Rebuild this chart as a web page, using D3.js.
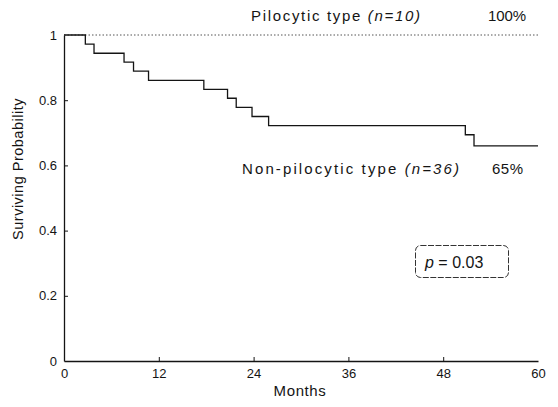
<!DOCTYPE html>
<html>
<head>
<meta charset="utf-8">
<script src="https://cdn.jsdelivr.net/npm/d3@7"></script>
<style>
  body { margin: 0; background: #fff; }
  svg { display: block; font-family: "Liberation Sans", Arial, sans-serif; }
</style>
</head>
<body>
<svg id="area" width="558" height="407"></svg>
<script>
// Kaplan-Meier steps: [month, survival after step]
const nonPilocyticMonths = [0, 2.7, 3.8, 7.6, 8.8, 10.7, 17.7, 20.7, 21.8, 23.8, 25.9, 50.8, 51.9, 60];
const nonPilocyticSurv = [1, 0.972, 0.944, 0.917, 0.889, 0.861, 0.833, 0.806, 0.778, 0.75, 0.722, 0.694, 0.66, 0.66];
const pilocyticMonths = [0, 60];
const pilocyticSurv = [1, 1];
const xTicks = [0, 12, 24, 36, 48, 60];
const yTicks = [0, 0.2, 0.4, 0.6, 0.8, 1];
const yTickLabels = ['0', '0.2', '0.4', '0.6', '0.8', '1'];

const svg = d3.select('#area');
const x = d3.scaleLinear([0, 60], [64, 538]);
const y = d3.scaleLinear([0, 1], [361, 35]);
const ink = '#141414';

// axes
const xAxis = svg.append('g')
  .attr('transform', `translate(0,${y(0)})`)
  .call(d3.axisBottom(x).tickValues(xTicks).tickSizeInner(-4).tickSizeOuter(0).tickPadding(8));
const yAxis = svg.append('g')
  .attr('transform', `translate(${x(0)},0)`)
  .call(d3.axisLeft(y).tickValues(yTicks).tickFormat((d, i) => yTickLabels[i])
    .tickSizeInner(-4).tickSizeOuter(0).tickPadding(7));
[xAxis, yAxis].forEach((g) => {
  g.select('.domain').attr('stroke', ink).attr('stroke-width', 1.3);
  g.selectAll('.tick line').attr('stroke', ink);
  g.selectAll('.tick text').attr('fill', ink).style('font-size', '13px');
});
xAxis.selectAll('.tick').filter((d) => d === 0 || d === 60).select('line').remove();
yAxis.selectAll('.tick').filter((d) => d === 0 || d === 1).select('line').remove();

// axis titles
svg.append('text')
  .attr('x', 300).attr('y', 396)
  .attr('text-anchor', 'middle')
  .attr('fill', ink)
  .style('font-size', '15px')
  .style('letter-spacing', '0.6px')
  .text('Months');
svg.append('text')
  .attr('transform', 'translate(23,169) rotate(-90)')
  .attr('text-anchor', 'middle')
  .attr('fill', ink)
  .style('font-size', '14.5px')
  .style('letter-spacing', '0.5px')
  .text('Surviving Probability');

// curves
const line = d3.line().curve(d3.curveStepAfter).x((d) => x(d[0])).y((d) => y(d[1]));
svg.append('path')
  .datum(pilocyticMonths.map((m, i) => [m, pilocyticSurv[i]]))
  .attr('d', line)
  .attr('fill', 'none')
  .attr('stroke', '#555')
  .attr('stroke-width', 1)
  .attr('stroke-dasharray', '1.5,2');
svg.append('path')
  .datum(nonPilocyticMonths.map((m, i) => [m, nonPilocyticSurv[i]]))
  .attr('d', line)
  .attr('fill', 'none')
  .attr('stroke', ink)
  .attr('stroke-width', 1.3);

// labels
function label(px, py, main, italic, len) {
  const t = svg.append('text')
    .attr('x', px).attr('y', py)
    .attr('fill', ink)
    .style('font-size', '15px')
    .attr('textLength', len)
    .attr('lengthAdjust', 'spacing');
  t.append('tspan').text(main);
  if (italic) t.append('tspan').style('font-style', 'italic').text(italic);
}
label(251, 21, 'Pilocytic type ', '(n=10)', 169);
label(488, 21, '100%', null, 38);
label(242, 174, 'Non-pilocytic type ', '(n=36)', 217);
label(492, 174, '65%', null, 31);

// p-value box
svg.append('rect')
  .attr('x', 415.5).attr('y', 245.5)
  .attr('width', 93).attr('height', 32)
  .attr('rx', 5)
  .attr('fill', 'none')
  .attr('stroke', '#333')
  .attr('stroke-width', 1)
  .attr('stroke-dasharray', '6,1.5');
const p = svg.append('text')
  .attr('x', 425).attr('y', 268)
  .attr('fill', ink)
  .style('font-size', '16px');
p.append('tspan').style('font-style', 'italic').text('p');
p.append('tspan').text(' = 0.03');
</script>
</body>
</html>
